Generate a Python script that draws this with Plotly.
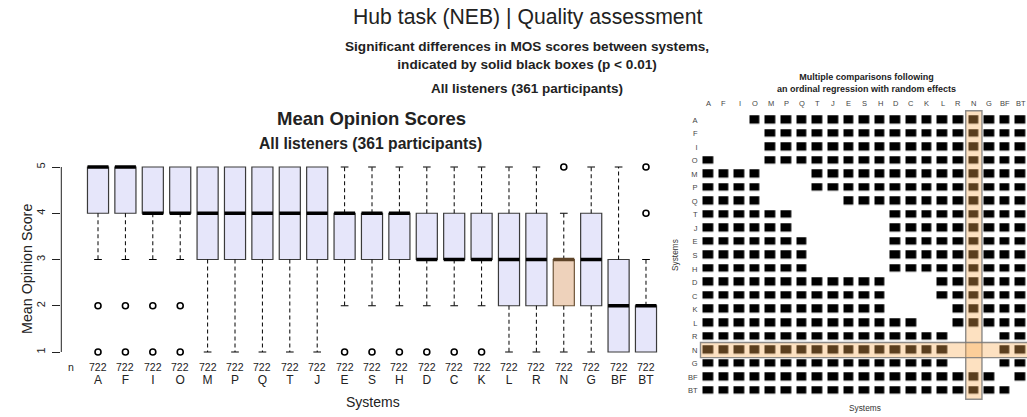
import plotly.graph_objects as go

# browser window is 1027x417; the page body margin is removed (post_script),
# so figure pixels equal window pixels.
WIN_W, WIN_H = 1027, 417
OFF = 0
W, H = WIN_W - OFF, WIN_H - OFF

# ---------------- data ----------------
systems = ["A", "F", "I", "O", "M", "P", "Q", "T", "J", "E", "S", "H",
           "D", "C", "K", "L", "R", "N", "G", "BF", "BT"]
n_counts = [722] * 21
medians = [5, 5, 4, 4, 4, 4, 4, 4, 4, 4, 4, 4, 3, 3, 3, 3, 3, 3, 3, 2, 2]
q1 = [4, 4, 4, 4, 3, 3, 3, 3, 3, 3, 3, 3, 3, 3, 3, 2, 2, 2, 2, 1, 1]
q3 = [5, 5, 5, 5, 5, 5, 5, 5, 5, 4, 4, 4, 4, 4, 4, 4, 4, 3, 4, 3, 2]
lower_whisker = [3, 3, 3, 3, 1, 1, 1, 1, 1, 2, 2, 2, 2, 2, 2, 1, 1, 1, 1, 1, 1]
upper_whisker = [5, 5, 5, 5, 5, 5, 5, 5, 5, 5, 5, 5, 5, 5, 5, 5, 5, 4, 5, 5, 3]
outliers = [[2, 1], [2, 1], [2, 1], [2, 1], [], [], [], [], [], [1], [1], [1],
            [1], [1], [1], [], [], [5], [], [], [5, 4]]
y_ticks = [1, 2, 3, 4, 5]
highlight = "N"

# significance matrix (rows/cols in `systems` order), '1' = significant (p < 0.01)
sig_matrix = [
    "000111111111111111111",  # A
    "000011111111111111111",  # F
    "000011111111111111111",  # I
    "100011111111111111111",  # O
    "111100011111111111111",  # M
    "111100011111111111111",  # P
    "111100000111111111111",  # Q
    "111111000000111111111",  # T
    "111111000000111111111",  # J
    "111111100000111111111",  # E
    "111111100000111111111",  # S
    "111111100000111111111",  # H
    "111111111111000111111",  # D
    "111111111111000111111",  # C
    "111111111111000011111",  # K
    "111111111111110011111",  # L
    "111111111111111100011",  # R
    "111111111111111100011",  # N
    "111111111111111100011",  # G
    "111111111111111111101",  # BF
    "111111111111111111110",  # BT
]

# ---------------- helpers ----------------
FONT = "Liberation Sans, Arial, sans-serif"


def px(p):
    """window pixel x -> paper fraction"""
    return (p - OFF) / W


def py(p):
    """window pixel y -> paper fraction"""
    return 1 - (p - OFF) / H


hi = systems.index(highlight)
idx = list(range(len(systems)))
positions = [i + 1 for i in idx]
LAV = "#e6e6fa"
PEACH = "#eed2bb"
BROWN = "#5e4428"
box_fill = [PEACH if s == highlight else LAV for s in systems]
box_line = ["#6e5538" if s == highlight else "#3a3a3a" for s in systems]
med_col = [BROWN if s == highlight else "black" for s in systems]

fig = go.Figure()

# boxes
fig.add_trace(go.Bar(
    x=positions, y=[b - a for a, b in zip(q1, q3)], base=q1, width=0.77,
    marker=dict(color=box_fill, line=dict(color=box_line, width=1.2)),
    xaxis="x", yaxis="y", showlegend=False, hoverinfo="skip"))

# whiskers (dashed)
wx, wy = [], []
cap_x, cap_y = [], []
for p, a, b, lo, up in zip(positions, q1, q3, lower_whisker, upper_whisker):
    if up > b:
        wx += [p, p, None]
        wy += [b, up, None]
        cap_x.append(p)
        cap_y.append(up)
    if lo < a:
        wx += [p, p, None]
        wy += [a, lo, None]
        cap_x.append(p)
        cap_y.append(lo)
fig.add_trace(go.Scatter(
    x=wx, y=wy, mode="lines", line=dict(color="black", width=1, dash="4px,3px"),
    xaxis="x", yaxis="y", showlegend=False, hoverinfo="skip"))
fig.add_trace(go.Scatter(
    x=cap_x, y=cap_y, mode="markers",
    marker=dict(symbol="line-ew", size=5.5, color="black",
                line=dict(color="black", width=1.1)),
    xaxis="x", yaxis="y", showlegend=False, hoverinfo="skip"))

# medians
fig.add_trace(go.Scatter(
    x=positions, y=medians, mode="markers",
    marker=dict(symbol="line-ew", size=15, color=med_col,
                line=dict(color=med_col, width=3.5)),
    xaxis="x", yaxis="y", showlegend=False, hoverinfo="skip"))

# outliers
ox, oy = [], []
for p, outs in zip(positions, outliers):
    for v in outs:
        ox.append(p)
        oy.append(v)
fig.add_trace(go.Scatter(
    x=ox, y=oy, mode="markers",
    marker=dict(symbol="circle-open", size=6, color="black",
                line=dict(color="black", width=1.6)),
    xaxis="x", yaxis="y", showlegend=False, hoverinfo="skip"))

# significance matrix heatmap (numeric cell indices, labelled with system names)
z = [[1 if c == "1" else None for c in row] for row in sig_matrix]
fig.add_trace(go.Heatmap(
    z=z, x=idx, y=idx, colorscale=[[0, "black"], [1, "black"]],
    zmin=0, zmax=1, showscale=False, xgap=5.2, ygap=5.6,
    xaxis="x2", yaxis="y2", hoverinfo="skip"))

# ---------------- layout (window pixel positions) ----------------
left_l, left_r = 61.3, 682.7
plot_top, plot_bot = 159.6, 359.4
mat_l = 700.5
mat_top, mat_bot = 110.7, 399.3
col_step = 15.62
row_step = 13.535

fig.update_layout(
    width=W, height=H, autosize=False,
    margin=dict(l=0, r=0, t=0, b=0),
    paper_bgcolor="white", plot_bgcolor="white",
    font=dict(family=FONT, color="#222222"),
    bargap=0,
    hovermode=False,
    xaxis=dict(domain=[px(left_l), px(left_r)], range=[-0.34, 22.34],
               tickmode="array", tickvals=positions, ticktext=systems, ticks="",
               tickfont=dict(size=12, color="#222"), ticklabelstandoff=12,
               showgrid=False, zeroline=False, showline=False, anchor="y"),
    yaxis=dict(domain=[py(plot_bot), py(plot_top)], range=[0.84, 5.16],
               tickmode="array", tickvals=y_ticks, ticks="outside", ticklen=8,
               tickcolor="#222", tickwidth=1, tickangle=-90,
               tickfont=dict(size=11, color="#222"), ticklabelstandoff=3,
               showgrid=False, zeroline=False, showline=False, anchor="x"),
    xaxis2=dict(domain=[px(mat_l), 1.0],
                range=[-0.5, (WIN_W - mat_l) / col_step - 0.5],
                showticklabels=False, ticks="",
                showgrid=False, zeroline=False, showline=False, anchor="y2"),
    yaxis2=dict(domain=[py(mat_bot), py(mat_top)],
                range=[20 + (mat_bot - 390.7) / row_step,
                       -(120 - mat_top) / row_step],
                tickmode="array", tickvals=idx, ticktext=systems,
                ticks="", tickfont=dict(size=7.5, color="#444"),
                ticklabelstandoff=2,
                showgrid=False, zeroline=False, showline=False, anchor="x2"),
)

shapes = [
    # y axis line from 1 to 5
    dict(type="line", xref="x domain", x0=0, x1=0, yref="y",
         y0=min(y_ticks), y1=max(y_ticks), line=dict(color="#222", width=1)),
    # highlight bands in the matrix
    dict(type="rect", xref="x2", x0=hi - 0.52, x1=hi + 0.52,
         yref="y2 domain", y0=0, y1=1, layer="above",
         fillcolor="rgba(250,172,83,0.36)",
         line=dict(color="rgba(120,120,120,0.85)", width=1.4)),
    dict(type="rect", yref="y2", y0=hi - 0.56, y1=hi + 0.56,
         xref="x2 domain", x0=0, x1=1.01, layer="above",
         fillcolor="rgba(250,172,83,0.36)",
         line=dict(color="rgba(120,120,120,0.85)", width=1.4)),
]
fig.update_layout(shapes=shapes)

ann = []


def A(text, x, y, size, bold=False, angle=0, color="#222", xref="paper",
      yref="paper", yanchor="middle"):
    ann.append(dict(text=f"<b>{text}</b>" if bold else text, x=x, y=y,
                    xref=xref, yref=yref, showarrow=False, textangle=angle,
                    xanchor="center", yanchor=yanchor,
                    font=dict(size=size, family=FONT, color=color)))


A("Hub task (NEB) | Quality assessment", px(527), py(17.5), 21.2)
A("Significant differences in MOS scores between systems,<br>"
  "indicated by solid black boxes (p &lt; 0.01)", px(527), py(55.5), 13.6, bold=True)
A("All listeners (361 participants)", px(527), py(88), 13.5, bold=True)
A("Mean Opinion Scores", px(371), py(118), 18.5, bold=True)
A("All listeners (361 participants)", px(370), py(143), 15.7, bold=True)
A("Mean Opinion Score", px(27), py(269), 14.3, angle=-90)
A("Systems", px(373), py(402), 14)

# n row
A("n", 0, py(367), 10.5, xref="x")
for p, n in zip(positions, n_counts):
    A(str(n), p, py(367), 10.5, xref="x")

# matrix column labels (top)
for i, s in zip(idx, systems):
    A(s, i, py(103), 7.5, color="#444", xref="x2")

# matrix titles
A("Multiple comparisons following<br>an ordinal regression with random effects",
  px(866), py(83), 9, bold=True)
A("Systems", px(865), py(408), 8.3, color="#333")
A("Systems", px(675), py(255), 8.3, angle=-90, color="#333")

fig.update_layout(annotations=ann)

fig.write_html(
    "out.html",
    config={"displayModeBar": False, "staticPlot": True},
    post_script="document.body.style.margin='0px';"
                "document.body.style.overflow='hidden';",
)
